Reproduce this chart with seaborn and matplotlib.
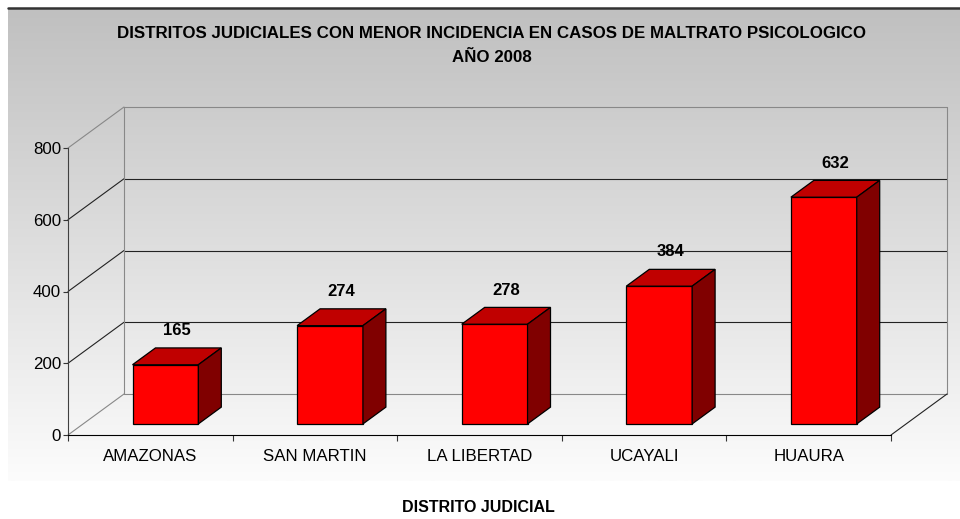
import numpy as np
import matplotlib
matplotlib.use("Agg")
import matplotlib.pyplot as plt
import seaborn as sns
from matplotlib.patches import Polygon
from matplotlib.lines import Line2D
from matplotlib.transforms import Affine2D
from matplotlib.colors import LinearSegmentedColormap

# Data
distritos = ["AMAZONAS", "SAN MARTIN", "LA LIBERTAD", "UCAYALI", "HUAURA"]
casos = [165, 274, 278, 384, 632]
y_ticks = [0, 200, 400, 600, 800]

titulo = ["DISTRITOS JUDICIALES CON MENOR INCIDENCIA EN CASOS DE MALTRATO PSICOLOGICO",
          "AÑO 2008"]
eje_x = "DISTRITO JUDICIAL"

sns.set_theme(style="ticks")
plt.rcParams["font.family"] = ["Liberation Sans", "DejaVu Sans"]
plt.rcParams["text.color"] = "black"
plt.rcParams["xtick.color"] = "black"
plt.rcParams["ytick.color"] = "black"

W, H = 960, 519
fig = plt.figure(figsize=(W / 100, H / 100), dpi=100)

# gray -> white background panel (Excel chart area)
bg = fig.add_axes([8 / W, 1 - 481 / H, 952 / W, 472 / H], zorder=0)
cmap = LinearSegmentedColormap.from_list("fondo", ["#c0c0c0", "#fcfcfc"])
bg.imshow(np.linspace(0, 1, 256).reshape(-1, 1), aspect="auto", cmap=cmap,
          extent=[0, 1, 0, 1])
bg.axis("off")
fig.add_artist(Line2D([8 / W, 1], [1 - 8 / H] * 2, color="#333333", lw=1.8))

# front plane of the pseudo-3D box
ax = fig.add_axes([68 / W, 1 - 435 / H, 823 / W, 287 / H], zorder=1)
ax.set_facecolor("none")
x0, x1 = -0.5, len(distritos) - 0.5
ymax = y_ticks[-1]
ax.set_xlim(x0, x1)
ax.set_ylim(0, ymax)

# depth vector (56 px right, 41 px up) in data units
dxu = 56 / (823 / (x1 - x0))
dyu = 41 / (287 / ymax)

# walls and gridlines
for v in y_ticks:
    col = "#888888" if v in (0, ymax) else "#222222"
    ax.plot([x0, x0 + dxu], [v, v + dyu], color=col, lw=0.8, clip_on=False, zorder=1)
    ax.plot([x0 + dxu, x1 + dxu], [v + dyu] * 2, color=col, lw=0.8, clip_on=False, zorder=1)
for xx in (x0, x1):
    ax.plot([xx + dxu] * 2, [dyu, ymax + dyu], color="#888888", lw=0.8, clip_on=False, zorder=1)
ax.plot([x1, x1 + dxu], [0, dyu], color="#222222", lw=0.8, clip_on=False, zorder=1)

# bars
sns.barplot(x=distritos, y=casos, ax=ax, color="#ff0000", saturation=1, width=0.4,
            edgecolor="black", linewidth=0.9, zorder=3)

f0, fd = 0.27, 0.41
ddx, ddy = fd * dxu, fd * dyu
for p, v in zip(list(ax.patches), casos):
    p.set_transform(Affine2D().translate(f0 * dxu, f0 * dyu) + ax.transData)
    p.set_clip_on(False)
    xl, w, h = p.get_x() + f0 * dxu, p.get_width(), p.get_height()
    yb = f0 * dyu
    top = [(xl, yb + h), (xl + w, yb + h), (xl + w + ddx, yb + h + ddy), (xl + ddx, yb + h + ddy)]
    side = [(xl + w, yb), (xl + w + ddx, yb + ddy), (xl + w + ddx, yb + h + ddy), (xl + w, yb + h)]
    ax.add_patch(Polygon(top, closed=True, fc="#c00000", ec="black", lw=0.9, clip_on=False, zorder=3))
    ax.add_patch(Polygon(side, closed=True, fc="#800000", ec="black", lw=0.9, clip_on=False, zorder=3))
    ax.annotate(str(v), (xl + (w + ddx) / 2, yb + h + ddy), xytext=(0, 12.5),
                textcoords="offset points", ha="center", va="center",
                fontsize=12, fontweight="bold", annotation_clip=False)

# axes styling
sns.despine(ax=ax)
ax.spines["left"].set_color("#404040")
ax.spines["bottom"].set_color("black")
for s in ("left", "bottom"):
    ax.spines[s].set_linewidth(0.8)
ax.set_yticks(y_ticks)
ax.set_xticks(np.arange(x0, x1 + 0.1), minor=True)
ax.tick_params(axis="x", which="major", length=0, pad=10, labelsize=12.2)
ax.tick_params(axis="x", which="minor", bottom=True, length=4.5, width=0.8, color="#333333")
ax.tick_params(axis="y", left=True, length=3.6, width=0.8, color="#333333", pad=1.5, labelsize=12.2)
ax.set_xlabel("")
ax.set_ylabel("")

fig.text(492 / W, 1 - 33 / H, titulo[0], ha="center", va="center", fontsize=12.2, fontweight="bold")
fig.text(492 / W, 1 - 58 / H, titulo[1], ha="center", va="center", fontsize=12.2, fontweight="bold")
fig.text(478 / W, 1 - 508 / H, eje_x, ha="center", va="center", fontsize=11.5, fontweight="bold")

fig.savefig("out.png", dpi=100)
